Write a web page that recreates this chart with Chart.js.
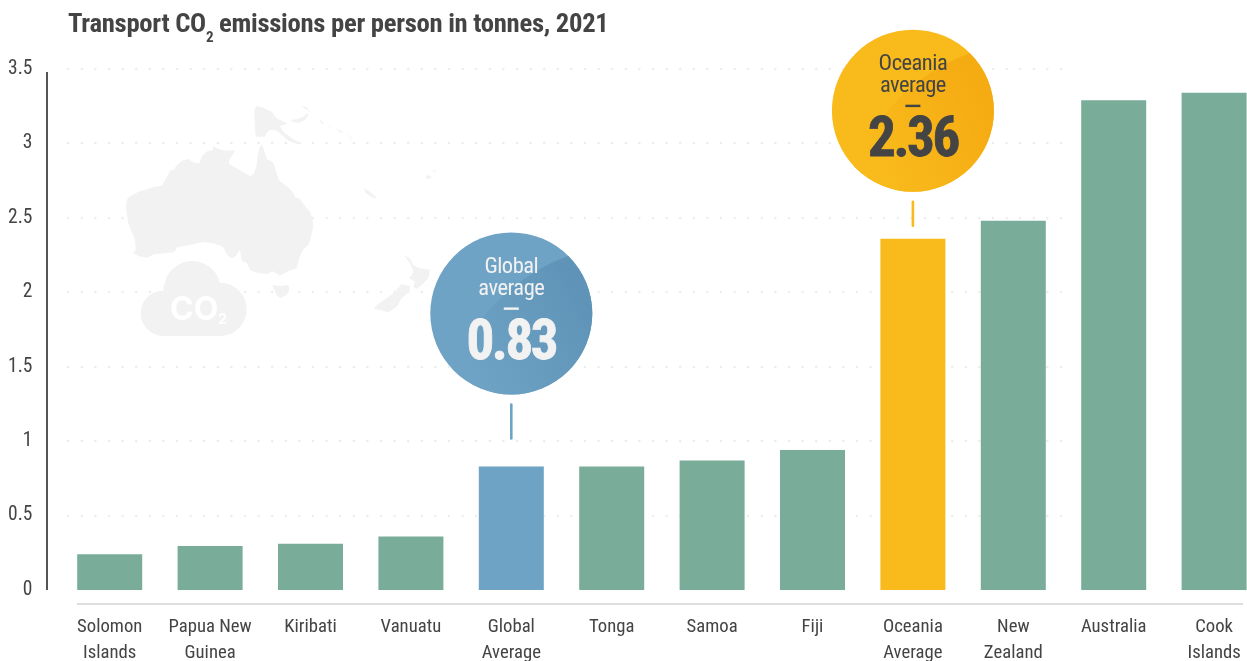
<!DOCTYPE html>
<html lang="en">
<head>
<meta charset="utf-8">
<title>Transport CO2 emissions per person</title>
<script src="https://cdn.jsdelivr.net/npm/chart.js@4/dist/chart.umd.min.js"></script>
<style>
  html, body { margin: 0; padding: 0; background: #fff; overflow: hidden; }
  #stage { position: relative; width: 1247px; height: 661px; overflow: hidden; }
  #chart { position: absolute; left: 0; top: 0; }
  h1 {
    position: absolute; left: 68px; top: 6px; margin: 0; white-space: nowrap;
    font: bold 26.7px/34px "Roboto Condensed", sans-serif;
    letter-spacing: -0.3px;
    color: #444;
  }
  h1 sub { font-size: 15px; line-height: 0; vertical-align: -10px; }
</style>
</head>
<body>
<div id="stage">
  <canvas id="chart" width="1300" height="661"></canvas>
  <h1>Transport CO<sub>2</sub> emissions per person in tonnes, 2021</h1>
</div>
<script>
const categories = [
  ['Solomon', 'Islands'], ['Papua New', 'Guinea'], 'Kiribati', 'Vanuatu',
  ['Global', 'Average'], 'Tonga', 'Samoa', 'Fiji',
  ['Oceania', 'Average'], ['New', 'Zealand'], 'Australia', ['Cook', 'Islands']
];
const emissions = [0.24, 0.295, 0.31, 0.36, 0.83, 0.83, 0.87, 0.94, 2.36, 2.48, 3.29, 3.34];
const barColors = [
  '#7aad99', '#7aad99', '#7aad99', '#7aad99', '#6fa3c5', '#7aad99',
  '#7aad99', '#7aad99', '#f9bb1c', '#7aad99', '#7aad99', '#7aad99'
];
const yMin = 0;
const yMax = 3.5;
const yStep = 0.5;

const LABEL_FONT = '"Roboto Condensed", sans-serif';
const TEXT_DARK = '#444';

// Callouts: index of the bar they point at, wording and colours.
const callouts = [
  { index: 4, lines: ['Global', 'average'], base: '#6fa3c5', shade: '#5f94b8', ink: '#f2f2f2', lift: 153, stemEnd: 44 },
  { index: 8, lines: ['Oceania', 'average'], base: '#f9bb1c', shade: '#f5ab12', ink: '#444444', lift: 128, stemEnd: 34 }
];

// Background map outlines, in a 3x drawing space placed at (100, 90).
const landShapes = [
  [[80,330],[88,320],[120,303],[135,300],[160,291],[185,287],[198,265],[212,240],[222,240],[228,228],[245,212],[265,207],[282,218],[298,220],[305,200],[318,185],[340,180],[338,168],[358,178],[378,182],[403,181],[400,192],[386,212],[388,222],[405,232],[430,247],[452,259],[462,250],[470,225],[472,200],[478,175],[485,163],[492,180],[500,208],[512,212],[522,222],[530,250],[538,272],[560,288],[578,305],[586,322],[600,327],[612,345],[630,365],[637,385],[640,410],[632,445],[625,465],[608,480],[598,505],[590,535],[565,543],[540,557],[518,544],[500,553],[470,548],[450,540],[440,518],[425,512],[420,480],[407,498],[395,505],[382,495],[368,470],[340,460],[310,456],[270,464],[232,472],[222,487],[190,490],[165,492],[140,503],[115,498],[100,490],[107,478],[105,450],[95,425],[85,400],[78,355]],
  [[516,585],[540,588],[566,585],[568,600],[560,615],[540,625],[530,615]],
  [[463,60],[470,48],[490,53],[515,65],[530,85],[555,97],[560,102],[540,108],[550,125],[575,145],[603,160],[590,162],[565,152],[545,135],[530,122],[510,120],[498,130],[495,140],[467,140],[464,100]],
  [[570,90],[590,88],[610,80],[622,68],[625,75],[615,90],[595,98],[580,96]],
  [[603,48],[618,50],[635,72],[625,62]],
  [[657,85],[672,100],[665,102]],
  [[685,105],[695,112],[688,112]],
  [[708,115],[730,127],[722,128]],
  [[742,127],[757,150],[750,145]],
  [[792,295],[810,305],[832,325],[815,322],[798,310]],
  [[975,262],[985,255],[995,260],[985,268]],
  [[995,245],[1012,238],[1005,245]],
  [[912,495],[930,505],[940,525],[960,535],[990,540],[985,565],[965,585],[950,597],[940,590],[945,575],[928,565],[940,545],[930,520]],
  [[905,582],[915,585],[930,588],[928,605],[905,625],[890,650],[865,667],[840,660],[822,657],[830,645],[860,625],[885,605]]
];

function drawBackdrop(ctx) {
  ctx.save();
  ctx.translate(100, 90);
  ctx.scale(1 / 3, 1 / 3);
  ctx.fillStyle = '#f2f2f2';
  landShapes.forEach(shape => {
    ctx.beginPath();
    shape.forEach(([x, y], i) => i ? ctx.lineTo(x, y) : ctx.moveTo(x, y));
    ctx.closePath();
    ctx.fill();
  });
  // Cloud badge
  ctx.beginPath();
  ctx.arc(190, 670, 68, 0, Math.PI * 2);
  ctx.arc(277, 598, 85, 0, Math.PI * 2);
  ctx.moveTo(440, 658);
  ctx.arc(360, 658, 80, 0, Math.PI * 2);
  ctx.fill();
  ctx.fillRect(190, 590, 170, 148);
  ctx.restore();

  ctx.save();
  ctx.fillStyle = '#fff';
  ctx.textBaseline = 'alphabetic';
  ctx.font = 'bold 32px Inter, sans-serif';
  ctx.fillText('CO', 170, 320);
  ctx.font = 'bold 14px Inter, sans-serif';
  ctx.fillText('2', 218, 324);
  ctx.restore();
}

const furniture = {
  id: 'furniture',
  beforeDatasetsDraw(chart) {
    const { ctx, scales: { x, y } } = chart;
    // Dotted reference rows that stop short of the tallest bars
    ctx.save();
    ctx.strokeStyle = '#ececec';
    ctx.lineWidth = 2.4;
    ctx.lineCap = 'round';
    ctx.setLineDash([0.01, 13.59]);
    for (let v = yMin + yStep; v <= yMax; v += yStep) {
      const py = Math.round(y.getPixelForValue(v));
      ctx.beginPath();
      ctx.moveTo(68.2, py);
      ctx.lineTo(1063, py);
      ctx.stroke();
    }
    ctx.restore();

    drawBackdrop(ctx);

    // Detached axis rules
    ctx.save();
    ctx.strokeStyle = '#555';
    ctx.lineWidth = 2;
    ctx.beginPath();
    ctx.moveTo(47, 72);
    ctx.lineTo(47, y.getPixelForValue(0));
    ctx.stroke();
    ctx.strokeStyle = '#dedede';
    ctx.beginPath();
    ctx.moveTo(77, y.getPixelForValue(0) + 14);
    ctx.lineTo(1243, y.getPixelForValue(0) + 14);
    ctx.stroke();
    ctx.restore();
  },
  afterDatasetsDraw(chart) {
    const { ctx, scales: { x, y } } = chart;
    callouts.forEach(c => {
      const value = emissions[c.index];
      const cx = x.getPixelForValue(c.index);
      const barTop = y.getPixelForValue(value);
      const cy = barTop - c.lift;
      const r = 81;

      // Stem between the disc and its bar
      ctx.save();
      ctx.strokeStyle = c.base;
      ctx.lineWidth = 2.6;
      ctx.lineCap = 'round';
      ctx.beginPath();
      ctx.moveTo(cx, cy + r + 10);
      ctx.lineTo(cx, cy + r + c.stemEnd);
      ctx.stroke();
      ctx.restore();

      // Disc with a darker sweep across its lower right
      ctx.save();
      ctx.beginPath();
      ctx.arc(cx, cy, r, 0, Math.PI * 2);
      ctx.fillStyle = c.base;
      ctx.fill();
      ctx.clip();
      const sweep = ctx.createLinearGradient(cx - 50, cy + 40, cx + 70, cy - 20);
      sweep.addColorStop(0, c.base);
      sweep.addColorStop(1, c.shade);
      ctx.fillStyle = sweep;
      ctx.beginPath();
      ctx.moveTo(cx - 60, cy + 55);
      ctx.quadraticCurveTo(cx - 20, cy - 30, cx + 58, cy - 58);
      ctx.lineTo(cx + 100, cy - 60);
      ctx.lineTo(cx + 100, cy + 100);
      ctx.lineTo(cx - 60, cy + 100);
      ctx.closePath();
      ctx.fill();
      ctx.restore();

      // Disc wording
      ctx.save();
      ctx.fillStyle = c.ink;
      ctx.strokeStyle = c.ink;
      ctx.textAlign = 'center';
      ctx.textBaseline = 'middle';
      ctx.font = '22.5px ' + LABEL_FONT;
      ctx.letterSpacing = '-0.5px';
      ctx.fillText(c.lines[0], cx, cy - 46);
      ctx.fillText(c.lines[1], cx, cy - 24);
      ctx.fillRect(cx - 7.5, cy - 6, 15, 2.4);
      ctx.font = 'bold 55px ' + LABEL_FONT;
      ctx.letterSpacing = '-2.4px';
      ctx.lineWidth = 0.8;
      ctx.fillText(value.toFixed(2), cx, cy + 32);
      ctx.strokeText(value.toFixed(2), cx, cy + 32);
      ctx.restore();
    });
  }
};

new Chart(document.getElementById('chart'), {
  type: 'bar',
  data: {
    labels: categories,
    datasets: [{
      data: emissions,
      backgroundColor: barColors,
      borderWidth: 0,
      barPercentage: 0.6474,
      categoryPercentage: 1
    }]
  },
  plugins: [furniture],
  options: {
    responsive: false,
    animation: false,
    layout: { padding: { top: 69, left: 0, right: 35.7, bottom: 0 } },
    plugins: { legend: { display: false }, tooltip: { enabled: false }, title: { display: false } },
    scales: {
      x: {
        grid: { display: false },
        border: { display: false },
        afterFit(scale) { scale.height = 71; },
        ticks: {
          color: TEXT_DARK,
          padding: 16,
          maxRotation: 0,
          autoSkip: false,
          font: { family: LABEL_FONT, size: 18.7, lineHeight: 26 / 18.7 }
        }
      },
      y: {
        min: yMin,
        max: yMax,
        grid: { display: false },
        border: { display: false },
        afterFit(scale) { scale.width = 59.5; },
        ticks: {
          stepSize: yStep,
          color: TEXT_DARK,
          padding: 19,
          font: { family: LABEL_FONT, size: 19.5 },
          callback: v => String(v)
        }
      }
    }
  }
});
</script>
</body>
</html>
